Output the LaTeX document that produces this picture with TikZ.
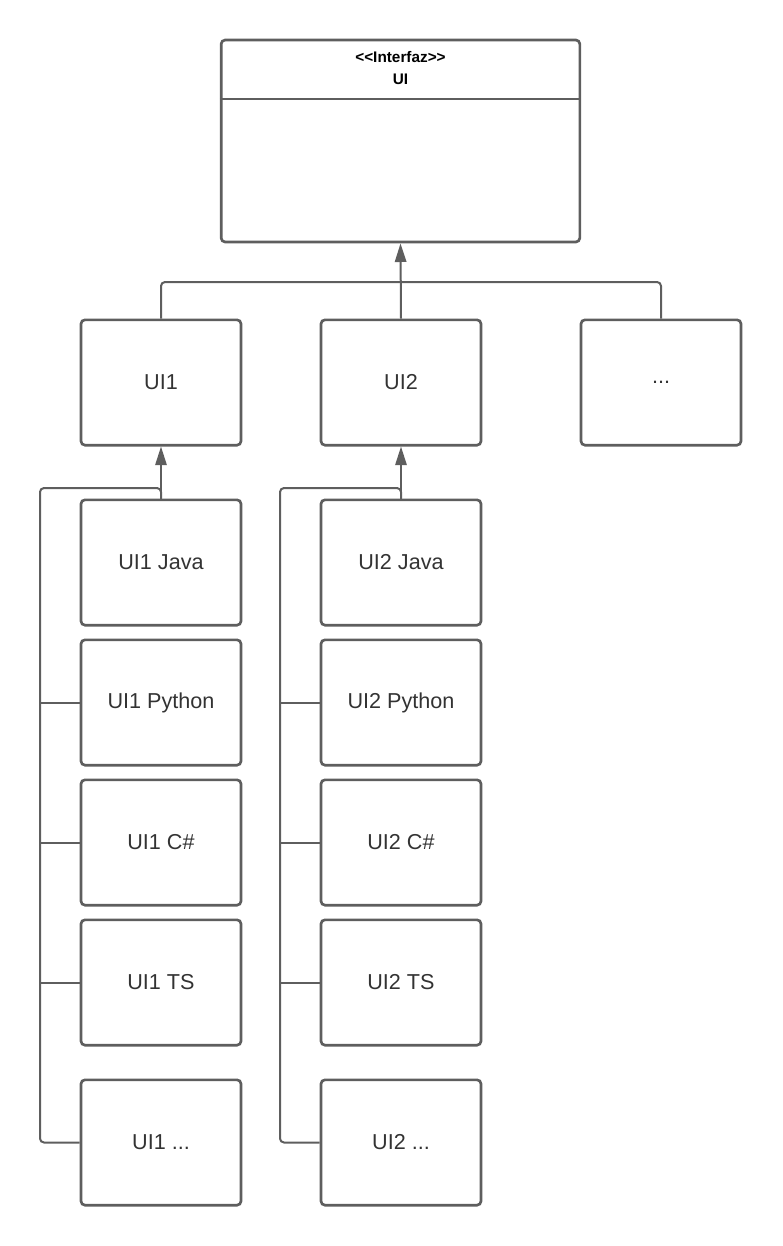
\documentclass[tikz,border=0pt]{standalone}
\usepackage{fontspec}
\setmainfont{Liberation Sans}
\usetikzlibrary{calc,arrows.meta,positioning}
\definecolor{edge}{HTML}{5E5E5E}
\definecolor{ink}{HTML}{333333}
\tikzset{%
    cls/.style={%
        rectangle, rounded corners=3pt, draw=edge, line width=2pt, fill=white,
        minimum width=269pt, minimum height=151.5pt
    },
    box/.style={%
        rectangle, rounded corners=3pt, draw=edge, line width=2pt, fill=white,
        minimum width=120pt, minimum height=94pt, text=ink,
        font=\fontsize{16.2}{19}\selectfont
    },
    head/.style={%
        align=center, font=\fontsize{11.5}{16}\selectfont\bfseries
    },
    link/.style={%
        draw=edge, line width=1.5pt, rounded corners=3pt
    },
    gen/.style={%
        draw=edge, line width=1.5pt, -{Triangle[width=8.5pt,length=14pt]}
    },
}
\begin{document}
\begin{tikzpicture}[x=0.75pt,y=-0.75pt]
  \useasboundingbox (0,0) rectangle (782,1246);

  % interface
  \node[cls] (ui) at (400.5,141) {};
  \node[head] (uihead) at (400.5,68) {{<}{<}Interfaz{>}{>}\\UI};
  \draw[edge, line width=2pt] (ui.west |- 0,99) -- (ui.east |- 0,99);

  % first level
  \node[box] (ui1) at (161,382.5) {UI1};
  \node[box] (ui2) at (401,382.5) {UI2};
  \node[box] (uimore) at (661,382.5) {...};

  \coordinate (jn) at (401,282);
  \draw[link] (ui1.north) |- (jn) -| (uimore.north);
  \draw[gen] (ui2.north) -- (ui.south);

  % UI1 implementations
  \node[box] (ui1java) at (161,562.5) {UI1 Java};
  \node[box] (ui1py) at (161,702.5) {UI1 Python};
  \node[box] (ui1cs) at (161,842.5) {UI1 C\#};
  \node[box] (ui1ts) at (161,982.5) {UI1 TS};
  \node[box] (ui1more) at (161,1142.5) {UI1 ...};

  \coordinate (bus1) at (40,488);
  \draw[link] (ui1java.north) |- (bus1) |- (ui1more.west);
  \draw[link] (bus1 |- ui1py.west) -- (ui1py.west);
  \draw[link] (bus1 |- ui1cs.west) -- (ui1cs.west);
  \draw[link] (bus1 |- ui1ts.west) -- (ui1ts.west);
  \draw[gen] (ui1java.north) -- (ui1.south);

  % UI2 implementations
  \node[box] (ui2java) at (401,562.5) {UI2 Java};
  \node[box] (ui2py) at (401,702.5) {UI2 Python};
  \node[box] (ui2cs) at (401,842.5) {UI2 C\#};
  \node[box] (ui2ts) at (401,982.5) {UI2 TS};
  \node[box] (ui2more) at (401,1142.5) {UI2 ...};

  \coordinate (bus2) at (280,488);
  \draw[link] (ui2java.north) |- (bus2) |- (ui2more.west);
  \draw[link] (bus2 |- ui2py.west) -- (ui2py.west);
  \draw[link] (bus2 |- ui2cs.west) -- (ui2cs.west);
  \draw[link] (bus2 |- ui2ts.west) -- (ui2ts.west);
  \draw[gen] (ui2java.north) -- (ui2.south);
\end{tikzpicture}
\end{document}
